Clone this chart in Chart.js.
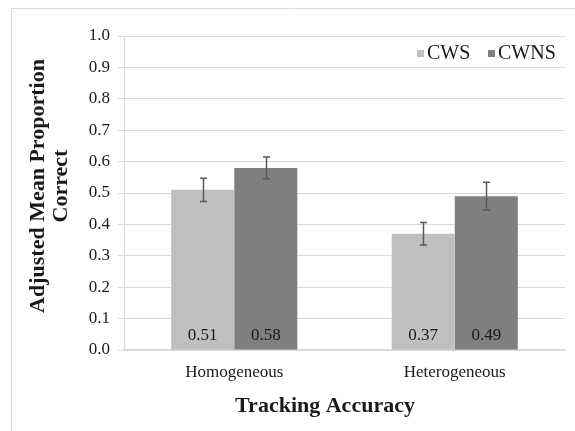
<!DOCTYPE html>
<html>
<head>
<meta charset="utf-8">
<script src="https://cdn.jsdelivr.net/npm/chart.js@4"></script>
<style>
html,body{margin:0;padding:0;background:#fff;}
#wrap{width:575px;height:431px;position:relative;}
</style>
</head>
<body>
<div id="wrap"><canvas id="c" width="575" height="431"></canvas></div>
<script>
const categories = ["Homogeneous", "Heterogeneous"];
const seriesNames = ["CWS", "CWNS"];
const cwsValues = [0.51, 0.37];
const cwnsValues = [0.58, 0.49];
const cwsErrors = [0.037, 0.036];
const cwnsErrors = [0.035, 0.044];
const yTicks = [0.0, 0.1, 0.2, 0.3, 0.4, 0.5, 0.6, 0.7, 0.8, 0.9, 1.0];
const xTitle = "Tracking Accuracy";
const yTitle = ["Adjusted Mean Proportion", "Correct"];

const SERIF = "'Liberation Serif', 'Times New Roman', serif";
const TXT = '#1a1a1a';

const frame = {
  id: 'frame',
  beforeDraw(chart) {
    const ctx = chart.ctx;
    ctx.save();
    ctx.strokeStyle = '#d9d9d9';
    ctx.lineWidth = 1;
    ctx.beginPath();
    ctx.moveTo(11.5, 431);
    ctx.lineTo(11.5, 8.5);
    ctx.lineTo(575, 8.5);
    ctx.stroke();
    ctx.restore();
  }
};

const extras = {
  id: 'extras',
  afterDatasetsDraw(chart) {
    const ctx = chart.ctx;
    const y = chart.scales.y;
    const errs = [cwsErrors, cwnsErrors];
    ctx.save();
    chart.data.datasets.forEach((ds, di) => {
      const meta = chart.getDatasetMeta(di);
      meta.data.forEach((bar, i) => {
        const v = ds.data[i];
        const e = errs[di][i];
        const yTop = y.getPixelForValue(v + e);
        const yBot = y.getPixelForValue(v - e);
        const x = Math.round(bar.x) + 0.5;
        ctx.strokeStyle = '#595959';
        ctx.lineWidth = 1.5;
        ctx.beginPath();
        ctx.moveTo(x, yTop); ctx.lineTo(x, yBot);
        ctx.moveTo(x - 3.5, yTop); ctx.lineTo(x + 3.5, yTop);
        ctx.moveTo(x - 3.5, yBot); ctx.lineTo(x + 3.5, yBot);
        ctx.stroke();
        ctx.fillStyle = TXT;
        ctx.font = '17px ' + SERIF;
        ctx.textAlign = 'center';
        ctx.textBaseline = 'middle';
        ctx.fillText(v.toFixed(2), bar.x, y.getPixelForValue(0) - 14);
      });
    });
    // legend
    ctx.font = '20px ' + SERIF;
    ctx.textBaseline = 'middle';
    ctx.textAlign = 'left';
    const ly = 54;
    const items = [{sq: 417, tx: 427}, {sq: 488, tx: 498}];
    chart.data.datasets.forEach((ds, di) => {
      ctx.fillStyle = ds.backgroundColor;
      ctx.fillRect(items[di].sq, ly - 4, 7, 7);
      ctx.fillStyle = TXT;
      ctx.fillText(ds.label, items[di].tx, ly);
    });
    // axis titles
    ctx.fillStyle = TXT;
    ctx.font = 'bold 22px ' + SERIF;
    ctx.textAlign = 'center';
    ctx.textBaseline = 'middle';
    ctx.fillText(xTitle, 325, 406);
    ctx.save();
    ctx.translate(0, 186);
    ctx.rotate(-Math.PI / 2);
    ctx.fillText(yTitle[0], 0, 38);
    ctx.fillText(yTitle[1], 0, 61);
    ctx.restore();
    ctx.restore();
  }
};

new Chart(document.getElementById('c'), {
  type: 'bar',
  data: {
    labels: categories,
    datasets: [
      { label: seriesNames[0], data: cwsValues, backgroundColor: '#bfbfbf', categoryPercentage: 0.572, barPercentage: 1.0 },
      { label: seriesNames[1], data: cwnsValues, backgroundColor: '#7f7f7f', categoryPercentage: 0.572, barPercentage: 1.0 }
    ]
  },
  options: {
    responsive: false,
    animation: false,
    layout: { padding: { top: 36, right: 10, bottom: 0, left: 0 } },
    plugins: { legend: { display: false }, tooltip: { enabled: false } },
    scales: {
      x: {
        grid: { display: false, drawTicks: false },
        border: { display: true, color: '#d9d9d9', width: 1.5 },
        ticks: { color: TXT, font: { family: SERIF, size: 17 }, padding: 12 },
        title: { display: false },
        afterFit(s) { s.height = 81; }
      },
      y: {
        min: 0, max: 1,
        afterBuildTicks(s) { s.ticks = yTicks.map(v => ({ value: v })); },
        grid: { color: '#d9d9d9', tickLength: 6, lineWidth: 1 },
        border: { display: true, color: '#d9d9d9' },
        ticks: { color: TXT, font: { family: SERIF, size: 17 }, padding: 8,
                 callback: v => Number(v).toFixed(1) },
        title: { display: false },
        afterFit(s) { s.width = 124; }
      }
    }
  },
  plugins: [frame, extras]
});
</script>
</body>
</html>
